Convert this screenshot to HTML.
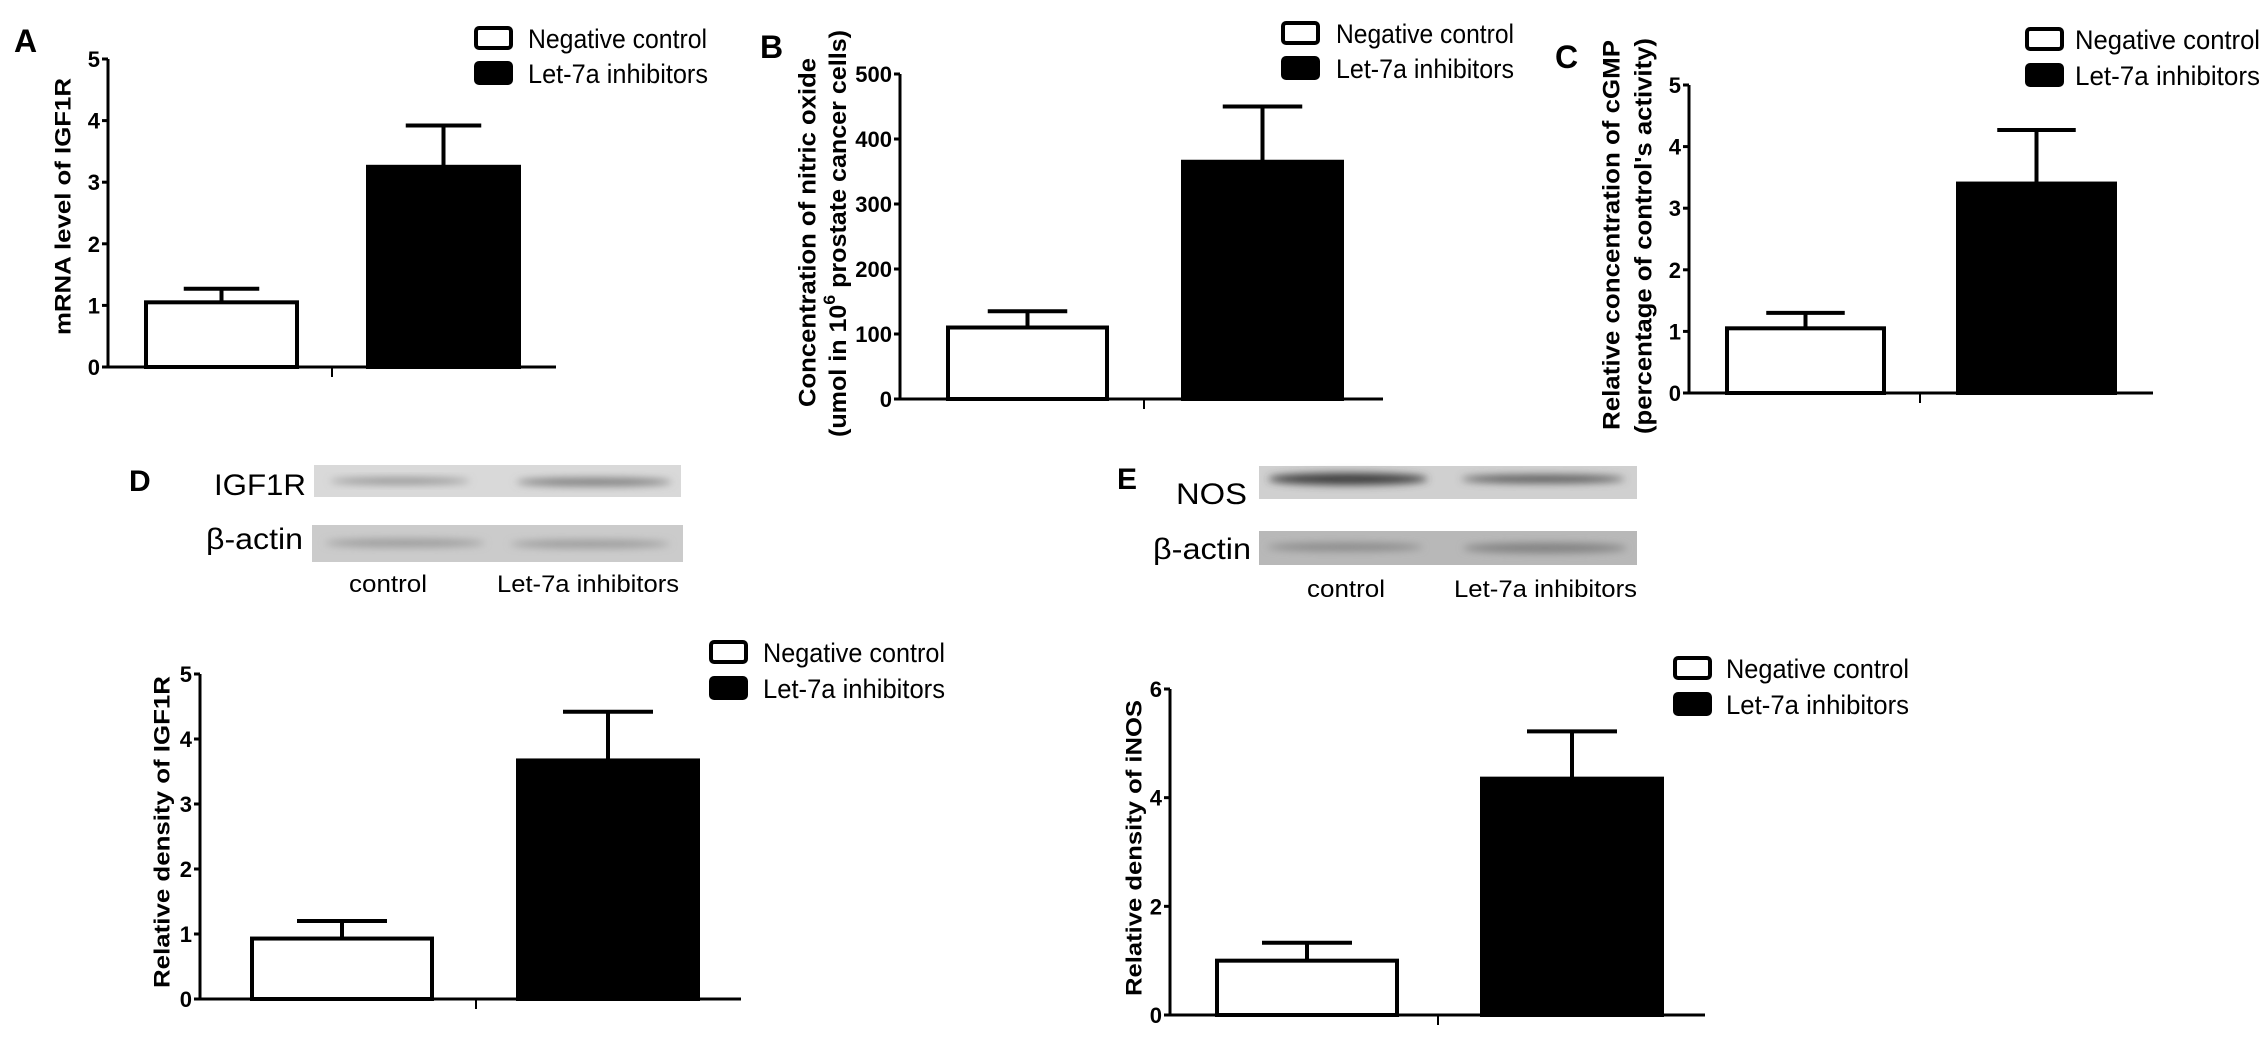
<!DOCTYPE html>
<html><head><meta charset="utf-8"><style>
html,body{margin:0;padding:0;background:#fff;}
svg{display:block;}
text{font-family:"Liberation Sans",sans-serif;fill:#000;}
.narrow{font-family:"Liberation Sans Narrow","Liberation Sans",sans-serif;}
</style></head><body>
<svg id="fig" width="2268" height="1043" viewBox="0 0 2268 1043" xmlns="http://www.w3.org/2000/svg">
<defs>
<filter id="blur4" x="-20%" y="-100%" width="140%" height="300%"><feGaussianBlur stdDeviation="4"/></filter>
</defs>
<!-- panel letters -->
<text x="14" y="52" font-size="32" font-weight="bold">A</text>
<text x="760" y="58" font-size="32" font-weight="bold">B</text>
<text x="1555" y="68" font-size="32" font-weight="bold">C</text>
<text x="129" y="491" font-size="30" font-weight="bold">D</text>
<text x="1117" y="489" font-size="30" font-weight="bold">E</text>

<!-- Western blot D -->
<g>
<rect x="314" y="465" width="367" height="32" fill="#d9d9d9"/>
<ellipse cx="400" cy="481" rx="70" ry="3" fill="#8a8a8a" filter="url(#blur4)"/>
<ellipse cx="594" cy="482" rx="78" ry="4" fill="#7a7a7a" filter="url(#blur4)"/>
<rect x="312" y="525" width="371" height="37" fill="#cbcbcb"/>
<ellipse cx="405" cy="543" rx="80" ry="4" fill="#9a9a9a" filter="url(#blur4)"/>
<ellipse cx="590" cy="544" rx="80" ry="4" fill="#9a9a9a" filter="url(#blur4)"/>
<text class="narrow" x="214" y="495" font-size="30" textLength="92" lengthAdjust="spacingAndGlyphs">IGF1R</text>
<text class="narrow" x="206" y="549" font-size="30" textLength="97" lengthAdjust="spacingAndGlyphs">β-actin</text>
<text class="narrow" x="349" y="592" font-size="24" textLength="78" lengthAdjust="spacingAndGlyphs">control</text>
<text class="narrow" x="497" y="592" font-size="24" textLength="182" lengthAdjust="spacingAndGlyphs">Let-7a inhibitors</text>
</g>

<!-- Western blot E -->
<g>
<rect x="1259" y="466" width="378" height="33" fill="#d0d0d0"/>
<ellipse cx="1348" cy="479" rx="80" ry="6" fill="#3c3c3c" filter="url(#blur4)"/>
<ellipse cx="1543" cy="479" rx="82" ry="4" fill="#555" filter="url(#blur4)"/>
<rect x="1259" y="531" width="378" height="34" fill="#b8b8b8"/>
<ellipse cx="1345" cy="547" rx="78" ry="4" fill="#888" filter="url(#blur4)"/>
<ellipse cx="1545" cy="548" rx="82" ry="5" fill="#808080" filter="url(#blur4)"/>
<text class="narrow" x="1176" y="504" font-size="30" textLength="71" lengthAdjust="spacingAndGlyphs">NOS</text>
<text class="narrow" x="1153" y="559" font-size="30" textLength="98" lengthAdjust="spacingAndGlyphs">β-actin</text>
<text class="narrow" x="1307" y="597" font-size="24" textLength="78" lengthAdjust="spacingAndGlyphs">control</text>
<text class="narrow" x="1454" y="597" font-size="24" textLength="183" lengthAdjust="spacingAndGlyphs">Let-7a inhibitors</text>
</g>
</svg>
<script>
// ---- data ----
const categories = ["Negative control", "Let-7a inhibitors"];
const aValues = [1.05, 3.25];
const aErrors = [0.22, 0.67];
const aTicks = [0, 1, 2, 3, 4, 5];
const bValues = [110, 365];
const bErrors = [25, 85];
const bTicks = [0, 100, 200, 300, 400, 500];
const cValues = [1.05, 3.40];
const cErrors = [0.25, 0.87];
const cTicks = [0, 1, 2, 3, 4, 5];
const dValues = [0.93, 3.67];
const dErrors = [0.27, 0.75];
const dTicks = [0, 1, 2, 3, 4, 5];
const eValues = [1.00, 4.35];
const eErrors = [0.33, 0.87];
const eTicks = [0, 2, 4, 6];

const NS = "http://www.w3.org/2000/svg";
const svg = document.getElementById("fig");
function mk(tag, attrs, parent) {
  const el = document.createElementNS(NS, tag);
  for (const k in attrs) el.setAttribute(k, attrs[k]);
  (parent || svg).appendChild(el);
  return el;
}

function drawChart(id, values, errors, ticks, L) {
  const g = mk("g", {});
  
  
  const ymax = ticks[ticks.length - 1];
  const yScale = v => L.y0 - (v / ymax) * (L.y0 - L.yTop);
  const xScale = i => L.bar0 + i * L.step;
  // bars
  values.forEach((v, i) => {
    const x = xScale(i);
    const r = mk("rect", {x: x, y: yScale(v), width: L.bw, height: L.y0 - yScale(v),
      fill: i === 0 ? "#fff" : "#000", stroke: "#000", "stroke-width": 4}, g);
    
    
    const cx = x + L.bw / 2, top = yScale(v + errors[i]);
    const eb = mk("path", {d: "M" + cx + " " + yScale(v) + "V" + top + "M" + (cx - L.bw / 4) + " " + top + "H" + (cx + L.bw / 4),
      stroke: "#000", "stroke-width": 4, fill: "none"}, g);
    
    
  });
  // axes
  const ya = mk("line", {x1: L.ax, y1: L.yTop, x2: L.ax, y2: L.y0 + 1.5, stroke: "#000", "stroke-width": 3}, g);
  
  
  const xa = mk("line", {x1: L.ax, y1: L.y0, x2: L.xEnd, y2: L.y0, stroke: "#000", "stroke-width": 3}, g);
  
  
  const xt = mk("line", {x1: L.xtick, y1: L.y0, x2: L.xtick, y2: L.y0 + 10, stroke: "#000", "stroke-width": 2}, g);
  
  
  ticks.forEach(t => {
    const y = yScale(t);
    const tl = mk("line", {x1: L.ax - 6, y1: y, x2: L.ax, y2: y, stroke: "#000", "stroke-width": 3}, g);
    
    
    const tx = mk("text", {x: L.ax - 8, y: y + 8, "font-size": 22, "font-weight": "bold", "text-anchor": "end", class: "narrow"}, g);
    tx.textContent = t;
    
    
  });
  // y title lines
  L.titles.forEach((tt, k) => {
    const cy = (tt.y1 + tt.y2) / 2;
    const tx = mk("text", {x: tt.x, y: cy, "font-size": L.tfs, "font-weight": "bold", "text-anchor": "middle",
      "dominant-baseline": "central", transform: "rotate(-90 " + tt.x + " " + cy + ")",
      textLength: tt.y2 - tt.y1, lengthAdjust: "spacingAndGlyphs"}, g);
    if (tt.sup) {
      const a = mk("tspan", {}, tx); a.textContent = tt.text[0];
      const s = mk("tspan", {dy: -9, "font-size": L.tfs * 0.7}, tx); s.textContent = tt.sup;
      const b = mk("tspan", {dy: 9}, tx); b.textContent = tt.text[1];
    } else tx.textContent = tt.text;
    
    
  });
  // legend
  categories.forEach((c, i) => {
    const ly = L.legY[i];
    const bx = mk("rect", {x: L.legX, y: ly, width: 35, height: 20, rx: 3, fill: i === 0 ? "#fff" : "#000", stroke: "#000", "stroke-width": 4}, g);
    
    
    const lt = mk("text", {x: L.legTX, y: ly + 20, "font-size": 27, class: "narrow", textLength: L.legW[i], lengthAdjust: "spacingAndGlyphs"}, g);
    lt.textContent = c;
    
    
  });
}

drawChart("a", aValues, aErrors, aTicks, {ax: 108, yTop: 59, y0: 367, xEnd: 556, bar0: 146, step: 222, bw: 151, xtick: 332,
  tfs: 22, titles: [{x: 63, y1: 78, y2: 335, text: "mRNA level of IGF1R"}],
  legX: 476, legY: [28, 63], legTX: 528, legW: [179, 180]});
drawChart("b", bValues, bErrors, bTicks, {ax: 900, yTop: 74, y0: 399, xEnd: 1383, bar0: 948, step: 235, bw: 159, xtick: 1144,
  tfs: 24, titles: [{x: 808, y1: 58, y2: 407, text: "Concentration of nitric oxide"},
    {x: 838, y1: 30, y2: 437, text: ["(umol in 10", " prostate cancer cells)"], sup: "6"}],
  legX: 1283, legY: [23, 58], legTX: 1336, legW: [178, 178]});
drawChart("c", cValues, cErrors, cTicks, {ax: 1689, yTop: 85, y0: 393, xEnd: 2153, bar0: 1727, step: 231, bw: 157, xtick: 1920,
  tfs: 24, titles: [{x: 1612, y1: 40, y2: 430, text: "Relative concentration of cGMP"},
    {x: 1644, y1: 38, y2: 434, text: "(percentage of control's activity)"}],
  legX: 2027, legY: [29, 65], legTX: 2075, legW: [185, 185]});
drawChart("d", dValues, dErrors, dTicks, {ax: 200, yTop: 674, y0: 999, xEnd: 741, bar0: 252, step: 266, bw: 180, xtick: 476,
  tfs: 22, titles: [{x: 162, y1: 676, y2: 988, text: "Relative density of IGF1R"}],
  legX: 711, legY: [642, 678], legTX: 763, legW: [182, 182]});
drawChart("e", eValues, eErrors, eTicks, {ax: 1170, yTop: 689, y0: 1015, xEnd: 1705, bar0: 1217, step: 265, bw: 180, xtick: 1438,
  tfs: 22, titles: [{x: 1134, y1: 700, y2: 996, text: "Relative density of iNOS"}],
  legX: 1675, legY: [658, 694], legTX: 1726, legW: [183, 183]});
</script>
</body></html>
